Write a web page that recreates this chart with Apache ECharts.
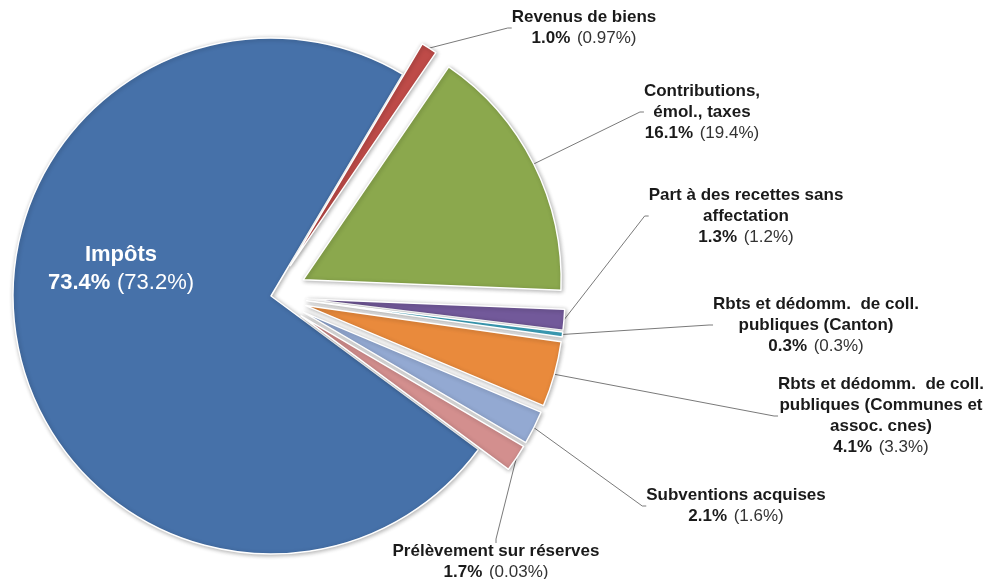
<!DOCTYPE html>
<html>
<head>
<meta charset="utf-8">
<script src="https://cdn.jsdelivr.net/npm/echarts@6/dist/echarts.min.js"></script>
<style>
  html, body { margin: 0; padding: 0; background: #fff; }
  #chart { width: 986px; height: 579px; }
</style>
</head>
<body>
<div id="chart"></div>
<script>
// Revenue shares, current year (bold) and previous year (in brackets)
const categories = [
  'Impôts',
  'Revenus de biens',
  'Contributions,\némol., taxes',
  'Part à des recettes sans\naffectation',
  'Rbts et dédomm.  de coll.\npubliques (Canton)',
  'Rbts et dédomm.  de coll.\npubliques (Communes et\nassoc. cnes)',
  'Subventions acquises',
  'Prélèvement sur réserves'
];
const shares = [73.4, 1.0, 16.1, 1.3, 0.3, 4.1, 2.1, 1.7];
const previousShares = ['73.2', '0.97', '19.4', '1.2', '0.3', '3.3', '1.6', '0.03'];

const colors = ['#4671A9', '#BE4B48', '#8BA84D', '#72599A', '#3FA6C0', '#E98A3C', '#93A9D2', '#D38F8E'];

// pie geometry
const pieCenter = [271, 296];
const pieRadius = 258;
const startAngle = 323.5;
const explode = [0, 36, 36, 36, 36, 36, 36, 36];

// label block centres (x, y) in pixels
const labelPos = [
  [121, 269], [584, 28], [702, 112], [746, 216],
  [816, 325], [881, 416], [736, 506], [496, 562]
];

const font = 'Liberation Sans, Arial, sans-serif';
const total = shares.reduce((a, b) => a + b, 0);

const richDark = {
  b: { fontSize: 17, fontWeight: 'bold', color: '#1a1a1a', lineHeight: 21, fontFamily: font, align: 'center' },
  p: { fontSize: 17, fontWeight: 'bold', color: '#1a1a1a', lineHeight: 21, fontFamily: font },
  q: { fontSize: 17, color: '#333', lineHeight: 21, fontFamily: font }
};
const richLight = {
  b: { fontSize: 22, fontWeight: 'bold', color: '#fff', lineHeight: 28, fontFamily: font, align: 'center' },
  p: { fontSize: 22, fontWeight: 'bold', color: '#fff', lineHeight: 28, fontFamily: font },
  q: { fontSize: 22, color: '#fff', lineHeight: 28, fontFamily: font }
};

function labelText(i) {
  const lines = categories[i].split('\n').map(l => '{b|' + l + '}').join('\n');
  return lines + '\n{p|' + shares[i].toFixed(1) + '%}  {q|(' + previousShares[i] + '%)}';
}

// Each slice gets its own pie layer so it can be pulled out along its own bisector;
// the other slices of that layer are kept invisible.
let cumulative = 0;
const series = categories.map((name, i) => {
  const mid = (startAngle - (cumulative + shares[i] / 2) / total * 360) * Math.PI / 180;
  cumulative += shares[i];
  const cx = pieCenter[0] + explode[i] * Math.cos(mid);
  const cy = pieCenter[1] - explode[i] * Math.sin(mid);
  const data = categories.map((n, j) => {
    if (j !== i) {
      return {
        name: n, value: shares[j],
        itemStyle: { color: 'rgba(0,0,0,0)', borderWidth: 0, shadowBlur: 0, shadowColor: 'rgba(0,0,0,0)' },
        label: { show: false },
        labelLine: { show: false }
      };
    }
    return {
      name: n, value: shares[j],
      itemStyle: { color: colors[j] },
      label: { show: true, formatter: () => labelText(j), rich: i === 0 ? richLight : richDark },
      labelLine: { show: i !== 0 }
    };
  });
  return {
    type: 'pie',
    name: name,
    center: [cx, cy],
    radius: pieRadius,
    startAngle: startAngle,
    clockwise: true,
    avoidLabelOverlap: false,
    silent: true,
    data: data,
    itemStyle: {
      borderColor: '#fff',
      borderWidth: 1.5,
      shadowBlur: 4,
      shadowColor: 'rgba(0,0,0,0.3)',
      shadowOffsetX: 1,
      shadowOffsetY: 1
    },
    emphasis: { disabled: true },
    label: { position: 'outside', align: 'center' },
    labelLine: {
      length: 8,
      length2: 4,
      lineStyle: { color: '#7a7a7a', width: 1 }
    },
    labelLayout: (params) => {
      const pos = labelPos[params.dataIndex];
      return { x: pos[0], y: pos[1], align: 'center', verticalAlign: 'middle' };
    }
  };
});

const chart = echarts.init(document.getElementById('chart'), null, { renderer: 'canvas' });
chart.setOption({
  animation: false,
  backgroundColor: '#fff',
  series: series
});
</script>
</body>
</html>
